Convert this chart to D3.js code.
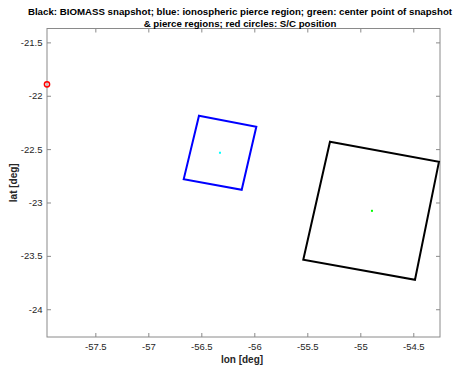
<!DOCTYPE html>
<html><head><meta charset="utf-8">
<script src="https://cdn.jsdelivr.net/npm/d3@7"></script>
<style>body{margin:0;background:#fff}svg{display:block}text{font-family:"Liberation Sans",Arial,Helvetica,sans-serif}</style>
</head><body>
<script>
const titleLines = ["Black: BIOMASS snapshot; blue: ionospheric pierce region; green: center point of snapshot", "& pierce regions; red circles: S/C position"];
const xLabel = "lon [deg]", yLabel = "lat [deg]";
const xTicks = [-57.5, -57, -56.5, -56, -55.5, -55, -54.5];
const yTicks = [-24, -23.5, -23, -22.5, -22, -21.5];
const xDomain = [-57.956, -54.248];
const yDomain = [-24.26, -21.37];
// BIOMASS snapshot corners [lon, lat]
const snapshotLon = [-55.286, -54.258, -54.484, -55.538];
const snapshotLat = [-22.431, -22.619, -23.724, -23.537];
// ionospheric pierce region corners
const pierceLon = [-56.522, -55.981, -56.119, -56.666];
const pierceLat = [-22.187, -22.291, -22.881, -22.781];
const snapshotCenter = [-54.890, -23.078];
const pierceCenter = [-56.324, -22.534];
const scLon = [-57.956], scLat = [-21.893];

const W = 461, H = 372;
const m = {l: 47, r: 21, t: 28.5, b: 35};
const svg = d3.select("body").append("svg").attr("width", W).attr("height", H);
const x = d3.scaleLinear().domain(xDomain).range([m.l, W - m.r]);
const y = d3.scaleLinear().domain(yDomain).range([H - m.b, m.t]);
const axCol = "#8a8a8a", txtCol = "#262626";
const tl = 4;
const fmt = d => String(d);

function styleAxis(g, showLabels) {
  g.select(".domain").remove();
  g.selectAll(".tick line").attr("stroke", axCol).attr("stroke-width", 1);
  g.selectAll(".tick text").attr("fill", txtCol).attr("font-size", 9.5).style("display", showLabels ? null : "none");
}
svg.append("g").attr("transform", `translate(0,${H - m.b})`)
  .call(d3.axisBottom(x).tickValues(xTicks).tickFormat(fmt).tickSizeInner(-tl).tickSizeOuter(0).tickPadding(6))
  .call(g => styleAxis(g, true));
svg.append("g").attr("transform", `translate(0,${m.t})`)
  .call(d3.axisTop(x).tickValues(xTicks).tickSizeInner(-tl).tickSizeOuter(0))
  .call(g => styleAxis(g, false));
svg.append("g").attr("transform", `translate(${m.l},0)`)
  .call(d3.axisLeft(y).tickValues(yTicks).tickFormat(fmt).tickSizeInner(-tl).tickSizeOuter(0).tickPadding(4.5))
  .call(g => styleAxis(g, true));
svg.append("g").attr("transform", `translate(${W - m.r},0)`)
  .call(d3.axisRight(y).tickValues(yTicks).tickSizeInner(-tl).tickSizeOuter(0))
  .call(g => styleAxis(g, false));
svg.append("rect").attr("x", m.l).attr("y", m.t).attr("width", W - m.r - m.l).attr("height", H - m.b - m.t)
  .attr("fill", "none").attr("stroke", axCol).attr("stroke-width", 1);

const line = d3.line().x(d => x(d[0])).y(d => y(d[1]));
function poly(lons, lats, col) {
  const pts = lons.map((v, i) => [v, lats[i]]);
  svg.append("path").attr("d", line(pts) + "Z").attr("fill", "none").attr("stroke", col).attr("stroke-width", 2).attr("stroke-linejoin", "miter");
}
poly(snapshotLon, snapshotLat, "#000");
poly(pierceLon, pierceLat, "#0000ff");
svg.append("rect").attr("x", x(snapshotCenter[0]) - 1).attr("y", y(snapshotCenter[1]) - 1).attr("width", 2).attr("height", 2).attr("fill", "#00ff00");
svg.append("rect").attr("x", x(pierceCenter[0]) - 1).attr("y", y(pierceCenter[1]) - 1).attr("width", 2).attr("height", 2).attr("fill", "#00ffff");
svg.selectAll(".sc").data(scLon).enter().append("circle")
  .attr("cx", d => x(d)).attr("cy", (d, i) => y(scLat[i])).attr("r", 2.6)
  .attr("fill", "none").attr("stroke", "#ff0000").attr("stroke-width", 1.5);

svg.append("text").attr("x", 242).attr("y", 363).attr("text-anchor", "middle")
  .attr("font-size", 10).attr("font-weight", "bold").attr("fill", txtCol).text(xLabel);
svg.append("text").attr("transform", `translate(17,${(m.t + H - m.b) / 2}) rotate(-90)`).attr("text-anchor", "middle")
  .attr("font-size", 10).attr("font-weight", "bold").attr("fill", txtCol).text(yLabel);
const t0 = svg.append("text").attr("x", 240).attr("y", 15).attr("text-anchor", "middle")
  .attr("font-size", 11).attr("font-weight", "bold").attr("fill", "#000").text(titleLines[0]);
const fs = 11 * 425 / t0.node().getComputedTextLength();
t0.attr("font-size", fs);
svg.append("text").attr("x", 240).attr("y", 27).attr("text-anchor", "middle")
  .attr("font-size", fs).attr("font-weight", "bold").attr("fill", "#000").text(titleLines[1]);
</script>
</body></html>
